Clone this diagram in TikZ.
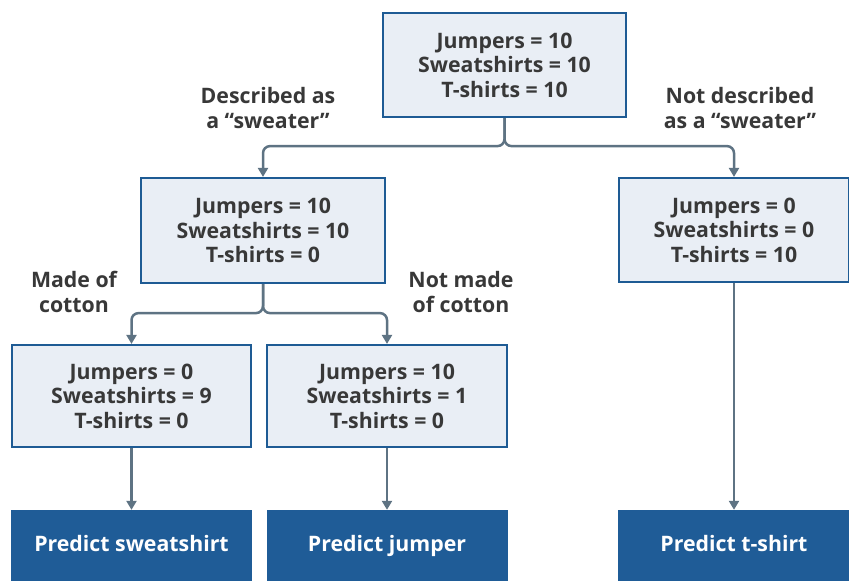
\documentclass[tikz,border=0pt]{standalone}
\usepackage{fontspec}
\setmainfont{Open Sans}
\usetikzlibrary{arrows.meta}
\definecolor{boxfill}{HTML}{E9EEF5}
\definecolor{boxline}{HTML}{1E5B94}
\definecolor{darkbox}{HTML}{1F5C97}
\definecolor{arrcol}{HTML}{5E7383}
\definecolor{txt}{HTML}{383838}
\tikzset{
  cnt/.style={draw=boxline, line width=2.2pt, fill=boxfill, align=center, text=txt,
    font=\fontsize{21.3}{24.5}\selectfont\bfseries, inner sep=0pt},
  pred/.style={fill=darkbox, inner sep=0pt},
  predtxt/.style={text=white, font=\fontsize{21.3}{24}\selectfont\bfseries, anchor=base},
  lbl/.style={align=center, text=txt, font=\fontsize{21.3}{25.5}\selectfont\bfseries},
  arr/.style={draw=arrcol, line width=2.5pt, rounded corners=7pt, -{Triangle[length=9pt,width=10pt]}},
}
\begin{document}
\begin{tikzpicture}[x=1pt,y=-1pt]
\useasboundingbox (0,0) rectangle (849,581);
\clip (0,0) rectangle (849,581);
\node[cnt, minimum width=243pt, minimum height=104pt] (root) at (504.5,65) {Jumpers = 10\\Sweatshirts = 10\\T-shirts = 10};
\node[cnt, minimum width=244pt, minimum height=105pt] (a) at (263,230.5) {Jumpers = 10\\Sweatshirts = 10\\T-shirts = 0};
\node[cnt, minimum width=230pt, minimum height=104pt] (b) at (734,230) {Jumpers = 0\\Sweatshirts = 0\\T-shirts = 10};
\node[cnt, minimum width=239pt, minimum height=102pt] (c) at (131.5,396) {Jumpers = 0\\Sweatshirts = 9\\T-shirts = 0};
\node[cnt, minimum width=240pt, minimum height=102pt] (d) at (387,396) {Jumpers = 10\\Sweatshirts = 1\\T-shirts = 0};
\node[pred, minimum width=241pt, minimum height=80pt] (pc) at (131.5,550) {};
\node[pred, minimum width=241pt, minimum height=80pt] (pd) at (387,550) {};
\node[pred, minimum width=232pt, minimum height=80pt] (pb) at (734,550) {};
\node[predtxt] (tc) at (131.5,551.5) {Predict sweatshirt};
\node[predtxt] (td) at (387,551.5) {Predict jumper};
\node[predtxt] (tb) at (734,551.5) {Predict t-shirt};
\draw[arr] (root.south) -- ++(0,28) -| (a.north);
\draw[arr] (root.south) -- ++(0,28) -| (b.north);
\draw[arr] (a.south) -- ++(0,29) -| (c.north);
\draw[arr] (a.south) -- ++(0,29) -| (d.north);
\draw[arr] (c.south) -- (pc.north);
\draw[arr] (d.south) -- (pd.north);
\draw[arr] (b.south) -- (pb.north);
\node[lbl] (l1) at (268,108) {Described as\\a “sweater”};
\node[lbl] (l2) at (740,108) {Not described\\as a “sweater”};
\node[lbl] (l3) at (74,292) {Made of\\cotton};
\node[lbl] (l4) at (461,292) {Not made\\of cotton};
\end{tikzpicture}
\end{document}
